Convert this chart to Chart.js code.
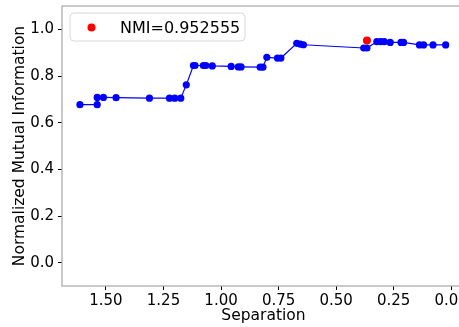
<!DOCTYPE html>
<html>
<head>
<meta charset="utf-8">
<script src="https://cdn.jsdelivr.net/npm/chart.js@4/dist/chart.umd.min.js"></script>
<style>
  html, body { margin: 0; padding: 0; background: #fff; overflow: hidden; }
  #wrap { width: 480px; height: 327px; }
</style>
</head>
<body>
<div id="wrap"><canvas id="nmiChart" width="480" height="327"></canvas></div>
<script>
// separation threshold vs NMI of the resulting clustering
const separation = [1.613, 1.538, 1.538, 1.511, 1.456, 1.311, 1.224, 1.201, 1.175, 1.151,
  1.120, 1.113, 1.077, 1.066, 1.038, 0.956, 0.925, 0.913, 0.830, 0.818,
  0.801, 0.755, 0.740, 0.671, 0.656, 0.642, 0.380, 0.366, 0.323, 0.306,
  0.291, 0.265, 0.218, 0.207, 0.138, 0.120, 0.079, 0.024]
const nmi = [0.677, 0.677, 0.708, 0.708, 0.707, 0.705, 0.705, 0.705, 0.705, 0.762,
  0.845, 0.845, 0.845, 0.845, 0.843, 0.841, 0.839, 0.839, 0.838, 0.838,
  0.880, 0.877, 0.877, 0.940, 0.937, 0.934, 0.920, 0.920, 0.947, 0.947,
  0.947, 0.944, 0.944, 0.944, 0.933, 0.933, 0.933, 0.933]

// best point
const bestSeparation = [0.366]
const bestNmi = [0.952555]

const xTicks = [0, 0.25, 0.5, 0.75, 1.0, 1.25, 1.5]
const yTicks = [0, 0.2, 0.4, 0.6, 0.8, 1.0]

const FONT = 'DejaVu Sans'

const curve = separation.map((s, i) => ({ x: s, y: nmi[i] }))
const best = bestSeparation.map((s, i) => ({ x: s, y: bestNmi[i] }))

// box round the plot area plus the legend in the upper left
const framePlugin = {
    id: 'frame',
    afterDatasetsDraw(chart) {
        const ctx = chart.ctx
        const a = chart.chartArea
        ctx.save()
        ctx.strokeStyle = '#a6a6a6'
        ctx.lineWidth = 1.2
        ctx.strokeRect(a.left, a.top, a.right - a.left, a.bottom - a.top)

        const ds = chart.data.datasets[1]
        const x = 70, y = 13, w = 175, h = 28, r = 4
        ctx.beginPath()
        ctx.roundRect(x, y, w, h, r)
        ctx.fillStyle = 'rgba(255,255,255,0.8)'
        ctx.fill()
        ctx.strokeStyle = '#d8d8d8'
        ctx.lineWidth = 1
        ctx.stroke()

        ctx.beginPath()
        ctx.arc(91.5, 27.5, 4, 0, Math.PI * 2)
        ctx.fillStyle = ds.backgroundColor
        ctx.fill()

        ctx.fillStyle = '#000'
        ctx.font = '16px "' + FONT + '"'
        ctx.textBaseline = 'alphabetic'
        ctx.textAlign = 'left'
        ctx.fillText(ds.label, 120, 32.5)
        ctx.restore()
    }
}

new Chart(document.getElementById('nmiChart'), {
    type: 'scatter',
    data: {
        datasets: [{
            label: 'NMI',
            data: curve,
            showLine: true,
            borderColor: '#0000ff',
            backgroundColor: '#0000ff',
            borderWidth: 1.2,
            pointRadius: 3.6,
            pointBorderWidth: 0,
            order: 2
        }, {
            label: 'NMI=' + bestNmi[0],
            data: best,
            borderColor: '#ff0000',
            backgroundColor: '#ff0000',
            pointRadius: 4,
            pointBorderWidth: 0,
            order: 1
        }]
    },
    options: {
        responsive: false,
        animation: false,
        layout: { padding: { left: 0, top: 6, right: 15, bottom: 0 } },
        plugins: { legend: { display: false }, tooltip: { enabled: false } },
        scales: {
            x: {
                type: 'linear',
                reverse: true,
                min: -0.06,
                max: 1.691,
                grid: { drawOnChartArea: false, tickLength: 4, tickColor: '#000' },
                border: { display: false },
                afterBuildTicks: s => { s.ticks = xTicks.map(v => ({ value: v })) },
                afterFit: s => { s.height = 41 },
                ticks: {
                    color: '#000',
                    padding: 2,
                    maxRotation: 0,
                    font: { family: FONT, size: 15 },
                    callback: v => Number(v).toFixed(2)
                },
                title: {
                    display: true,
                    text: 'Separation',
                    color: '#000',
                    padding: { top: 0, bottom: 2 },
                    font: { family: FONT, size: 15.5 }
                }
            },
            y: {
                min: -0.1,
                max: 1.1,
                grid: { drawOnChartArea: false, tickLength: 4, tickColor: '#000' },
                border: { display: false },
                afterBuildTicks: s => { s.ticks = yTicks.map(v => ({ value: v })) },
                afterFit: s => { s.width = 62; s.paddingTop = 0; s.paddingBottom = 0 },
                ticks: {
                    color: '#000',
                    padding: 4,
                    font: { family: FONT, size: 15 },
                    callback: v => Number(v).toFixed(1)
                },
                title: {
                    display: true,
                    text: 'Normalized Mutual Information',
                    color: '#000',
                    padding: { top: 11, bottom: 0 },
                    font: { family: FONT, size: 15.5 }
                }
            }
        }
    },
    plugins: [framePlugin]
})
</script>
</body>
</html>
